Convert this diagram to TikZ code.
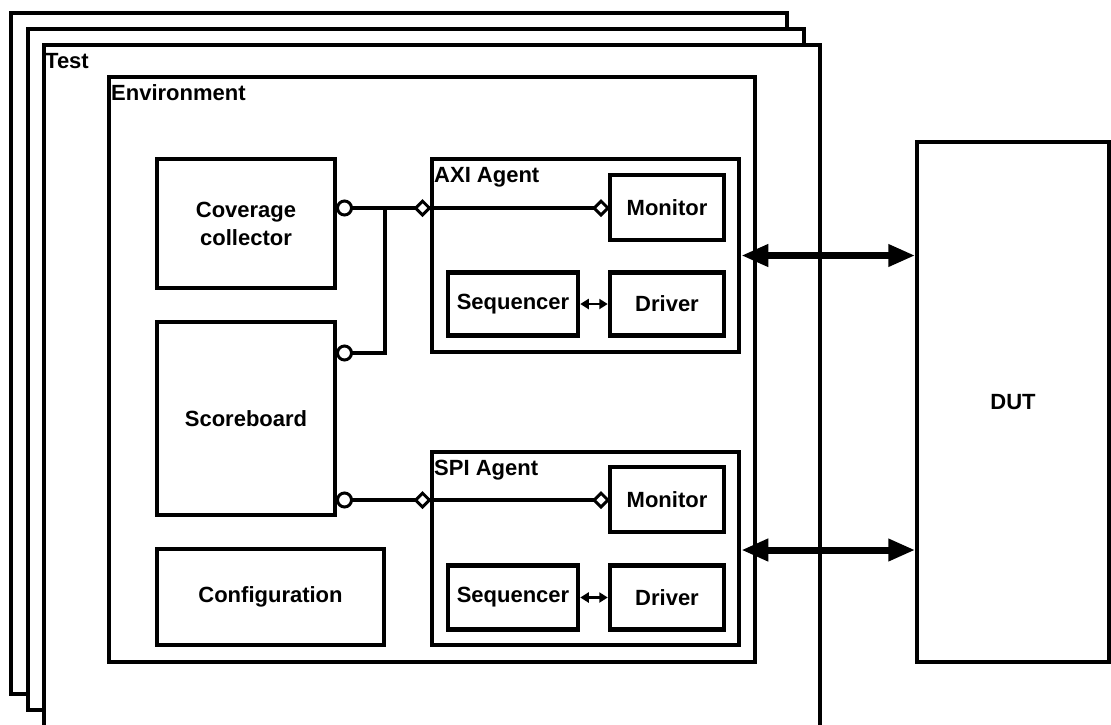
\documentclass[tikz,border=0pt]{standalone}
\usepackage{fontspec}
\setmainfont{Liberation Sans}
\usetikzlibrary{shapes.geometric,arrows.meta}

\tikzset{
  lbl/.style={font=\fontsize{22}{28}\selectfont\bfseries, inner sep=0pt},
  frame/.style={draw, line width=4.5pt, fill=white},
  box/.style={draw, line width=4.5pt, fill=white, inner sep=0pt, align=center,
    font=\fontsize{22}{28}\selectfont\bfseries},
  port/.style={circle, draw, line width=3pt, fill=white, minimum size=14pt, inner sep=0pt},
  socket/.style={diamond, draw, line width=3pt, fill=white, minimum width=15pt,
    minimum height=15pt, inner sep=0pt},
  conn/.style={line width=4pt},
  smallarrow/.style={line width=2.5pt, {Triangle[length=8.5pt,width=10pt]}-{Triangle[length=8.5pt,width=10pt]}},
  bigarrow/.style={line width=7pt, {Triangle[length=27pt,width=21pt]}-{Triangle[length=27pt,width=21pt]}},
}

\begin{document}
\begin{tikzpicture}[x=1pt,y=-1pt]
  \useasboundingbox (0,0) rectangle (1111,724);
  \clip (0,0) rectangle (1111,724);

  % stacked test frames
  \draw[frame] (11,13) rectangle (787,694);
  \draw[frame] (28,29) rectangle (804,710);
  \draw[frame] (44,45) rectangle (820,727);
  \node[lbl, anchor=base west] (testlbl) at (45,68) {Test};

  % environment
  \draw[frame] (109,77) rectangle (755,662);
  \node[lbl, anchor=base west] (envlbl) at (111,100) {Environment};

  % environment components
  \node[box, minimum width=178pt, minimum height=129pt] (cov) at (246,223.5) {Coverage\\collector};
  \node[box, minimum width=178pt, minimum height=193pt] (sb) at (246,418.5) {Scoreboard};
  \node[box, minimum width=227pt, minimum height=96pt] (cfg) at (270.5,597) {Configuration};

  % AXI agent
  \node[box, minimum width=307pt, minimum height=193pt] (axi) at (585.5,255.5) {};
  \node[lbl, anchor=base west] (axilbl) at (434,182) {AXI Agent};
  \node[box, minimum width=114pt, minimum height=65pt] (axmon) at (667,207.5) {Monitor};
  \node[box, minimum width=130pt, minimum height=63pt] (axseq) at (513,304) {Sequencer};
  \node[box, minimum width=114pt, minimum height=63pt] (axdrv) at (667,304) {Driver};

  % SPI agent
  \node[box, minimum width=307pt, minimum height=193pt] (spi) at (585.5,548.5) {};
  \node[lbl, anchor=base west] (spilbl) at (434,475) {SPI Agent};
  \node[box, minimum width=114pt, minimum height=65pt] (spmon) at (667,499.5) {Monitor};
  \node[box, minimum width=130pt, minimum height=64pt] (spseq) at (513,597.5) {Sequencer};
  \node[box, minimum width=114pt, minimum height=64pt] (spdrv) at (667,597.5) {Driver};

  % DUT
  \node[box, line width=4pt, minimum width=191.5pt, minimum height=520pt] (dut) at (1013,402) {DUT};

  % analysis connections
  \coordinate (join) at (385,208);
  \draw[conn] (344.5,208) -- (422.5,208);
  \draw[conn] (344.5,353) -| (join);
  \draw[conn] (422.5,208) -- (601,208);
  \draw[conn] (344.5,500) -- (601,500);

  \node[port] (covp) at (344.5,208) {};
  \node[port] (sbpa) at (344.5,353) {};
  \node[port] (sbpb) at (344.5,500) {};
  \node[socket] (axin) at (422.5,208) {};
  \node[socket] (axmin) at (601,208) {};
  \node[socket] (spin) at (422.5,500) {};
  \node[socket] (spmin) at (601,500) {};

  % sequencer <-> driver
  \draw[smallarrow] (axseq.east) -- (axdrv.west);
  \draw[smallarrow] (spseq.east) -- (spdrv.west);

  % agents <-> DUT
  \coordinate (spiport) at ([yshift=-1.5pt]spi.east);
  \draw[bigarrow] (axi.east) -- (dut.west |- axi.east);
  \draw[bigarrow] (spiport) -- (dut.west |- spiport);
\end{tikzpicture}
\end{document}
